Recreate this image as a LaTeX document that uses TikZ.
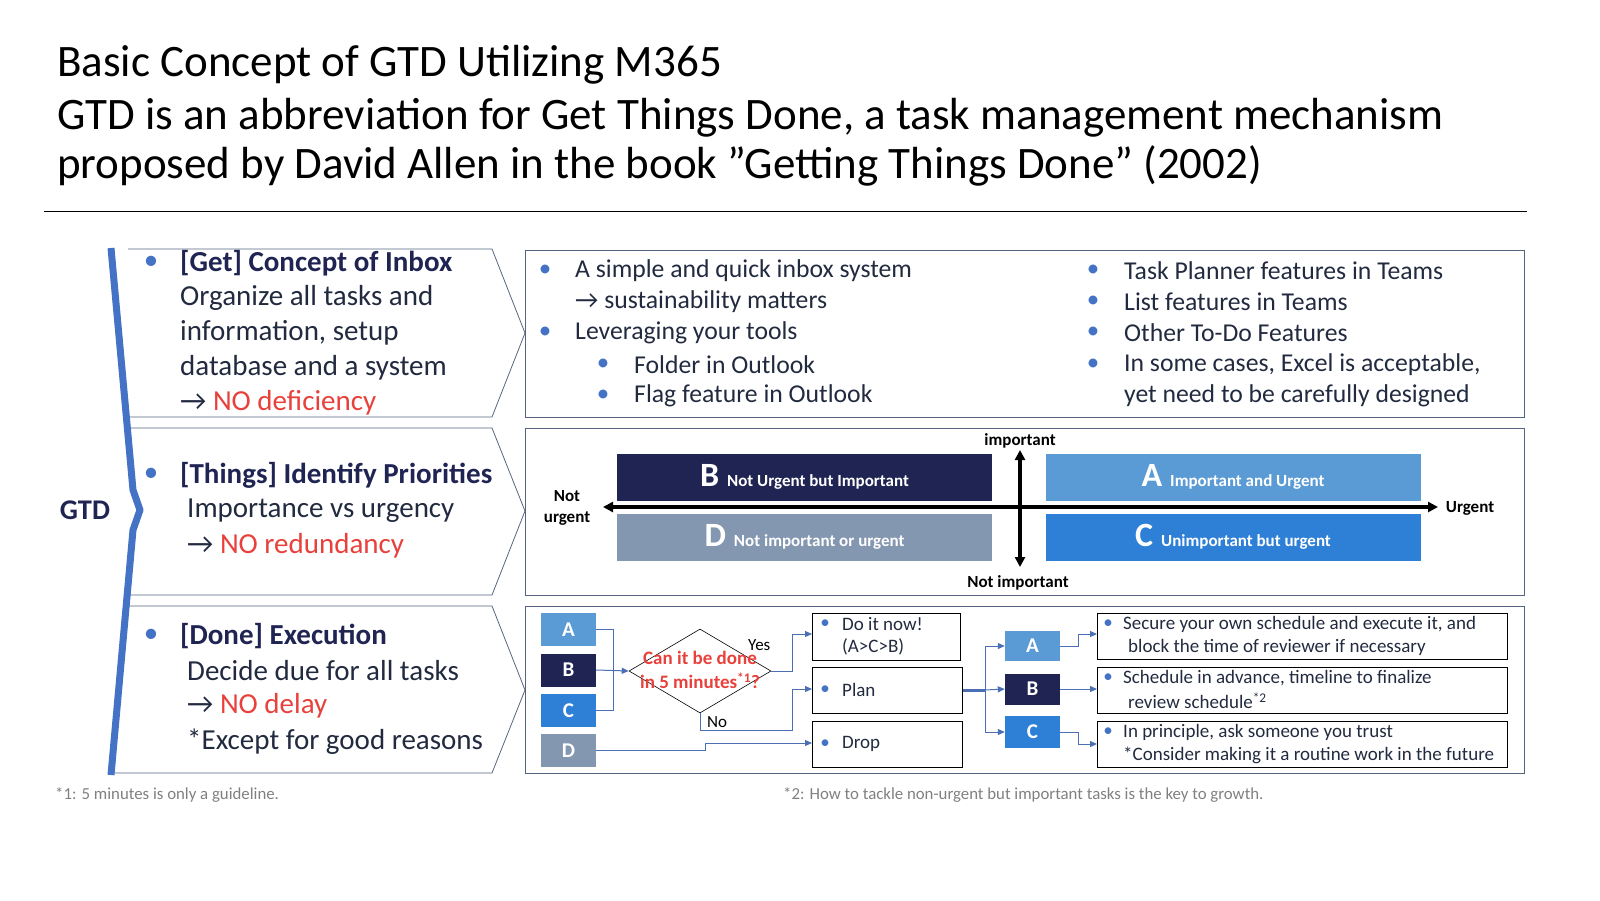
\documentclass[tikz,border=0pt]{standalone}
\usepackage{fontspec}
\setmainfont{Carlito}
\usetikzlibrary{arrows.meta,shapes.geometric}
\definecolor{navy}{HTML}{1F2452}
\definecolor{txt}{HTML}{222A3F}
\definecolor{bl}{HTML}{4472C4}
\definecolor{lnk}{HTML}{4A6FB5}
\definecolor{ca}{HTML}{5B9BD5}
\definecolor{cc}{HTML}{2E7FD6}
\definecolor{cd}{HTML}{8497B0}
\definecolor{rd}{HTML}{E8403A}
\definecolor{frame}{HTML}{55657F}
\tikzset{
 x=1pt,y=-1pt,
 T/.style={anchor=west,inner sep=0pt,text=txt},
 big/.style={T,font=\fontsize{29}{34}\selectfont},
 mid/.style={T,font=\fontsize{25.7}{30}\selectfont},
 sm/.style={T,font=\fontsize{19}{22}\selectfont},
 dot/.style={anchor=center,inner sep=0pt,text=bl},
 chev/.style={draw=frame,line width=0.8pt},
 panel/.style={draw=frame,line width=0.8pt},
 quad/.style={inner sep=0pt,minimum width=375pt,minimum height=47pt,text=white,font=\bfseries\fontsize{17}{19}\selectfont},
 lbox/.style={inner sep=0pt,minimum width=55pt,minimum height=33pt,text=white,font=\bfseries\fontsize{21}{23}\selectfont},
 obox/.style={draw=black,line width=0.8pt,inner sep=0pt,anchor=north west},
 conn/.style={draw=lnk,line width=1pt},
 arr/.style={conn,-{Triangle[length=7pt,width=6pt]}},
 axis/.style={line width=3.5pt,{Triangle[length=10pt,width=10pt]}-{Triangle[length=10pt,width=10pt]}},
 ax/.style={inner sep=0pt,font=\bfseries\fontsize{17}{21}\selectfont},
}
\begin{document}
\begin{tikzpicture}
\path[use as bounding box] (0,0) rectangle (1600,900);
% title
\node[anchor=west,inner sep=0pt,font=\fontsize{45}{50}\selectfont] (t1) at (57,65) {Basic Concept of GTD Utilizing M365};
\node[anchor=west,inner sep=0pt,font=\fontsize{45}{50}\selectfont] (t2) at (57,118) {GTD is an abbreviation for Get Things Done, a task management mechanism};
\node[anchor=west,inner sep=0pt,font=\fontsize{45}{50}\selectfont] (t3) at (57,166) {proposed by David Allen in the book ”Getting Things Done” (2002)};
\draw[line width=1pt] (44,211) -- (1527,211);
% chevrons
\draw[chev] (128,249)--(492,249)--(525,333)--(492,417)--(128,417);
\draw[chev] (130,428)--(492,428)--(525,511)--(492,595)--(130,595);
\draw[chev] (128,606)--(492,606)--(525,690)--(492,773)--(110,773);
% bracket
\draw[bl,line width=7pt,line join=round] (111,248)--(133,490)--(140,510)--(133,530)--(111,775);
\node[inner sep=0pt,text=navy,font=\bfseries\fontsize{28.5}{32}\selectfont] (gtd) at (85,510) {GTD};
% row1 left
\node[dot,font=\fontsize{29}{34}\selectfont] (d1) at (151,263) {•};
\node[big,font=\bfseries\fontsize{29}{34}\selectfont,text=navy] (g1) at (180,263) {[Get] Concept of Inbox};
\node[big] (g2) at (180,298) {Organize all tasks and};
\node[big] (g3) at (180,333) {information, setup};
\node[big] (g4) at (180,368) {database and a system};
\node[big] (g5) at (180,403) {→ \textcolor{rd}{NO deficiency}};
% row2 left
\node[dot,font=\fontsize{29}{34}\selectfont] (d2) at (151,475) {•};
\node[big,font=\bfseries\fontsize{29}{34}\selectfont,text=navy] (h1) at (180,475) {[Things] Identify Priorities};
\node[big] (h2) at (187,511) {Importance vs urgency};
\node[big] (h3) at (187,546) {→ \textcolor{rd}{NO redundancy}};
% row3 left
\node[dot,font=\fontsize{29}{34}\selectfont] (d3) at (151,636) {•};
\node[big,font=\bfseries\fontsize{29}{34}\selectfont,text=navy] (k1) at (180,636) {[Done] Execution};
\node[big] (k2) at (187,671) {Decide due for all tasks};
\node[big] (k3) at (187,706) {→ \textcolor{rd}{NO delay}};
\node[big] (k4) at (187,742) {*Except for good reasons};
% panels
\draw[panel] (525,250) rectangle (1524,417);
\draw[panel] (525,428) rectangle (1524,595);
\draw[panel] (525,606) rectangle (1524,773);
% row1 right
\node[dot,font=\fontsize{25}{30}\selectfont] (e1) at (545,271) {•};
\node[mid] (r1) at (575,271) {A simple and quick inbox system};
\node[mid] (r2) at (575,302) {→ sustainability matters};
\node[dot,font=\fontsize{25}{30}\selectfont] (e2) at (545,333) {•};
\node[mid] (r3) at (575,333) {Leveraging your tools};
\node[dot,font=\fontsize{25}{30}\selectfont] (e3) at (603,365) {•};
\node[mid] (r4) at (634,365) {Folder in Outlook};
\node[dot,font=\fontsize{25}{30}\selectfont] (e4) at (603,396) {•};
\node[mid] (r5) at (634,396) {Flag feature in Outlook};
\foreach \yy/\tt [count=\i] in {271/Task Planner features in Teams,302/List features in Teams,333/Other To-Do Features,365/{In some cases, Excel is acceptable,}}{
 \node[dot,font=\fontsize{25}{30}\selectfont] (f\i) at (1093,\yy) {•};
 \node[mid] (s\i) at (1124,\yy) {\tt};
}
\node[mid] (s5) at (1124,396) {yet need to be carefully designed};
% row2 matrix
\node[quad,fill=navy] (qB) at (804.5,477) {\fontsize{34}{36}\selectfont B\hspace{8pt}\fontsize{17}{19}\selectfont Not Urgent but Important};
\node[quad,fill=ca] (qA) at (1233,477) {\fontsize{34}{36}\selectfont A\hspace{8pt}\fontsize{17}{19}\selectfont Important and Urgent};
\node[quad,fill=cd] (qD) at (804.5,537) {\fontsize{34}{36}\selectfont D\hspace{8pt}\fontsize{17}{19}\selectfont Not important or urgent};
\node[quad,fill=cc] (qC) at (1233,537) {\fontsize{34}{36}\selectfont C\hspace{8pt}\fontsize{17}{19}\selectfont Unimportant but urgent};
\coordinate (xl) at (603,507); \coordinate (xr) at (1438,507);
\coordinate (yt) at (1020,450); \coordinate (yb) at (1020,567);
\draw[axis] (xl)--(xr);
\draw[axis] (yt)--(yb);
\node[ax] (li) at (1020,441) {important};
\node[ax] (lni) at (1018,583) {Not important};
\node[ax,align=center] (lnu) at (567,508) {Not\\urgent};
\node[ax] (lu) at (1470,508) {Urgent};
% row3 flow
\node[lbox,fill=ca] (bA) at (568.5,629.5) {A};
\node[lbox,fill=navy] (bB) at (568.5,670) {B};
\node[lbox,fill=cc] (bC) at (568.5,710.5) {C};
\node[lbox,fill=cd] (bD) at (568.5,750.5) {D};
\node[diamond,draw=black,line width=0.6pt,minimum width=142pt,minimum height=84pt,inner sep=0pt,aspect=1.7] (dia) at (700,671) {};
\node[inner sep=0pt,align=center,text=rd,font=\bfseries\fontsize{19}{24}\selectfont] (dq) at (700,670) {Can it be done\\in 5 minutes\textsuperscript{*1}?};
\node[obox,minimum width=148pt,minimum height=47pt] (o1) at (812,613) {};
\node[obox,minimum width=150pt,minimum height=46pt] (o2) at (812,667) {};
\node[obox,minimum width=150pt,minimum height=46pt] (o3) at (812,721) {};
\node[dot,font=\fontsize{19}{22}\selectfont] (ob1) at (825,624) {•};
\node[sm] (ot1) at (842,624) {Do it now!};
\node[sm] (ot1b) at (842,647) {(A>C>B)};
\node[dot,font=\fontsize{19}{22}\selectfont] (ob2) at (825,690) {•};
\node[sm] (ot2) at (842,690) {Plan};
\node[dot,font=\fontsize{19}{22}\selectfont] (ob3) at (825,744) {•};
\node[sm] (ot3) at (842,744) {Drop};
\node[sm,text=black,font=\fontsize{17}{20}\selectfont] (yes) at (748,645) {Yes};
\node[sm,text=black,font=\fontsize{17}{20}\selectfont] (no) at (707,722) {No};
\draw[conn] (bA.east)--(613,629.5)--(613,710.5)--(bC.east);
\draw[arr] (bB.east)--(dia.west);
\draw[arr] (dia.east)--(792,671)--(792,634)--(o1.west|-0,634);
\draw[arr] (dia.south)--(700,730)--(792,730)--(792,689)--(o2.west|-0,689);
\draw[arr] (bD.east)--(705,750.5)--(705,743)--(o3.west|-0,743);
% priority boxes
\node[lbox,fill=ca,minimum width=55pt,minimum height=30pt] (pA) at (1032.5,646) {A};
\node[lbox,fill=navy,minimum width=55pt,minimum height=31pt] (pB) at (1032.5,689) {B};
\node[lbox,fill=cc,minimum width=55pt,minimum height=32pt] (pC) at (1032.5,732) {C};
\draw[conn,line width=3pt] (o2.east|-0,690)--(985,690);
\draw[arr] (985,690)--(985,646)--(pA.west);
\draw[arr] (985,690)--(pB.west);
\draw[arr] (985,690)--(985,732)--(pC.west);
\node[obox,minimum width=410pt,minimum height=46pt] (x1) at (1097,613) {};
\node[obox,minimum width=410pt,minimum height=46pt] (x2) at (1097,667) {};
\node[obox,minimum width=410pt,minimum height=46pt] (x3) at (1097,721) {};
\draw[arr] (pA.east)--(1078,646)--(1078,634)--(x1.west|-0,634);
\draw[arr] (pB.east)--(x2.west|-0,689);
\draw[arr] (pC.east)--(1078,732)--(1078,744)--(x3.west|-0,744);
\node[dot,font=\fontsize{19}{22}\selectfont] (xb1) at (1108,624) {•};
\node[sm] (xt1) at (1123,624) {Secure your own schedule and execute it, and};
\node[sm] (xt1b) at (1128,647) {block the time of reviewer if necessary};
\node[dot,font=\fontsize{19}{22}\selectfont] (xb2) at (1108,678) {•};
\node[sm] (xt2) at (1123,678) {Schedule in advance, timeline to finalize};
\node[sm] (xt2b) at (1128,701) {review schedule\textsuperscript{*2}};
\node[dot,font=\fontsize{19}{22}\selectfont] (xb3) at (1108,732) {•};
\node[sm] (xt3) at (1123,732) {In principle, ask someone you trust};
\node[sm] (xt3b) at (1123,755) {*Consider making it a routine work in the future};
% footnotes
\node[anchor=west,inner sep=0pt,text=gray,font=\fontsize{16.8}{19}\selectfont] (fn1) at (55,795) {*1: 5 minutes is only a guideline.};
\node[anchor=west,inner sep=0pt,text=gray,font=\fontsize{16.8}{19}\selectfont] (fn2) at (783,795) {*2: How to tackle non-urgent but important tasks is the key to growth.};
\end{tikzpicture}
\end{document}
